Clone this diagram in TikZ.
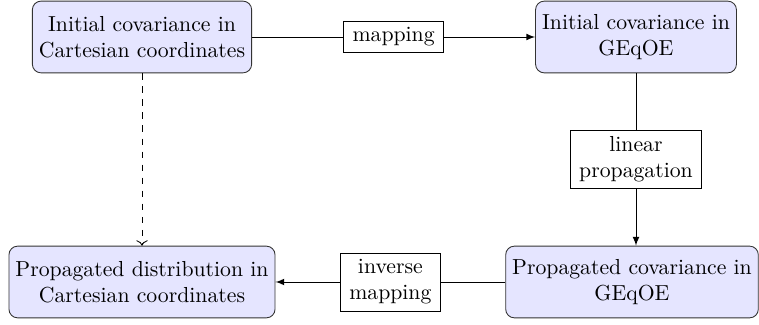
\documentclass[tikz,border=0pt]{standalone}
\usepackage{tikz}
\usetikzlibrary{arrows,arrows.meta,positioning}
\definecolor{c0}{rgb}{0.9,0.9,1}
\tikzset{%
  block/.style={rectangle,rounded corners=4pt,draw=black!80,fill=c0,align=center,inner sep=3pt,minimum height=33pt},
  tag/.style={rectangle,draw,fill=white,align=center,inner xsep=4pt,inner ysep=3pt},
  link/.style={-latex}
}

\begin{document}
\begin{tikzpicture}[x=0.46pt,y=-0.46pt]
  \useasboundingbox (0,0) rectangle (759,325);
  \node[block] (ini) at (142,37) {Initial covariance in\\Cartesian coordinates};
  \node[block] (inig) at (636,37) {Initial covariance in\\GEqOE};
  \node[block] (propg) at (632,282) {Propagated covariance in\\GEqOE};
  \node[block] (propc) at (142,282) {Propagated distribution in\\Cartesian coordinates};
  %%%
  \draw[link] (ini) -- node[tag] {mapping} (inig);
  \draw[link] (inig.south) -- node[tag] {linear\\propagation} (inig.south |- propg.north);
  \draw[link] (propg) -- node[tag] {inverse\\mapping} (propc);
  \draw[dashed,->] (ini) -- (propc);
\end{tikzpicture}
\end{document}
